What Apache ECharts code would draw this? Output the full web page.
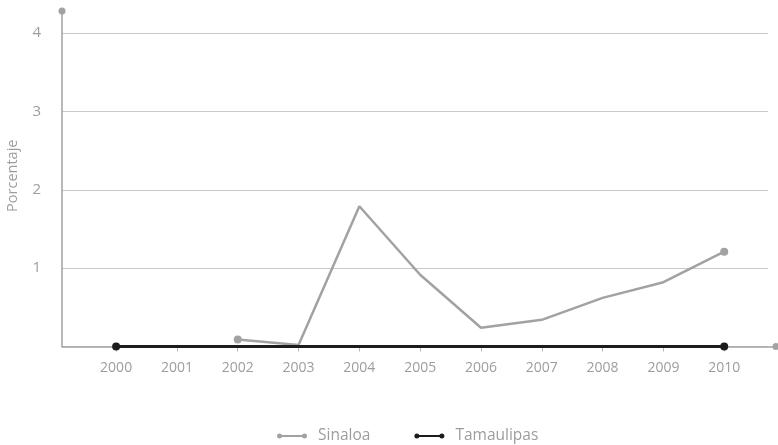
<!DOCTYPE html>
<html>
<head>
<meta charset="utf-8">
<script src="https://cdn.jsdelivr.net/npm/echarts@6/dist/echarts.min.js"></script>
<style>
  html, body { margin: 0; padding: 0; background: #ffffff; }
  #chart { width: 778px; height: 445px; }
</style>
</head>
<body>
<div id="chart"></div>
<script>
// Annual percentages by state
const years = [2000, 2001, 2002, 2003, 2004, 2005, 2006, 2007, 2008, 2009, 2010];
const sinaloa = [null, null, 0.09, 0.02, 1.79, 0.915, 0.24, 0.34, 0.62, 0.82, 1.21];
const tamaulipas = [0, 0, 0, 0, 0, 0, 0, 0, 0, 0, 0];
const yTicks = [1, 2, 3, 4];

const GREY = '#a2a2a2';
const BLACK = '#1c1c1c';
const TEXT = '#9d9d9d';
const FONT = '"Open Sans", "Noto Sans", sans-serif';

// Line with a dot at each end: only the first and last valid points get a marker
function toSeriesData(values) {
  const idx = values.map((v, i) => (v == null ? -1 : i)).filter(i => i >= 0);
  const first = idx[0], last = idx[idx.length - 1];
  return values.map((v, i) => {
    if (v == null) return null;
    const item = { value: [years[i], v] };
    if (i === first || i === last) {
      item.symbol = 'circle';
      item.symbolSize = 8;
    }
    return item;
  }).filter(d => d !== null);
}

const legendIcon = 'path://M0,3a2.5,2.5 0 1,1 5,0a2.5,2.5 0 1,1 -5,0Z M25,3a2.5,2.5 0 1,1 5,0a2.5,2.5 0 1,1 -5,0Z M2.5,2L27.5,2L27.5,4L2.5,4Z';

const chart = echarts.init(document.getElementById('chart'), null, { renderer: 'canvas' });

chart.setOption({
  animation: false,
  backgroundColor: '#ffffff',
  legend: {
    top: 423,
    left: 272,
    itemWidth: 30,
    itemHeight: 6,
    itemGap: 44,
    itemStyle: { borderWidth: 0 },
    textStyle: { color: TEXT, fontSize: 15.5, fontFamily: FONT, padding: [0, 0, 0, 6] },
    data: [
      { name: 'Sinaloa', icon: legendIcon, itemStyle: { color: GREY, borderWidth: 0 } },
      { name: 'Tamaulipas', icon: legendIcon, itemStyle: { color: BLACK, borderWidth: 0 } }
    ]
  },
  grid: [
    { left: 62, right: 10, top: 33, bottom: 98.5, containLabel: false, outerBoundsMode: 'none' },
    { left: 62, right: 2, top: 11, bottom: 98.5, containLabel: false, outerBoundsMode: 'none' }
  ],
  xAxis: [
    {
      gridIndex: 0,
      type: 'value',
      min: 1999.11,
      max: 2010.72,
      axisLine: { show: false },
      splitLine: { show: false },
      axisTick: {
        show: true,
        customValues: years,
        length: 5,
        lineStyle: { color: '#b5b5b5', width: 1 }
      },
      axisLabel: {
        customValues: years,
        color: TEXT,
        fontSize: 14,
        fontFamily: FONT,
        margin: 15,
        formatter: v => String(v)
      }
    },
    {
      gridIndex: 1,
      type: 'value',
      min: 0,
      max: 1,
      axisLine: {
        show: true,
        symbol: ['none', 'circle'],
        symbolSize: [7, 7],
        lineStyle: { color: GREY, width: 1.5 }
      },
      axisTick: { show: false },
      axisLabel: { show: false },
      splitLine: { show: false }
    }
  ],
  yAxis: [
    {
      gridIndex: 0,
      type: 'value',
      min: 0,
      max: 4,
      interval: 1,
      name: 'Porcentaje',
      nameLocation: 'middle',
      nameGap: 42,
      nameRotate: 90,
      nameMoveOverlap: false,
      nameTextStyle: { color: TEXT, fontSize: 14.5, fontFamily: FONT, padding: [0, 0, 0, 28] },
      axisLine: { show: false },
      axisTick: { show: false },
      axisLabel: {
        color: TEXT,
        fontSize: 15,
        fontFamily: FONT,
        margin: 21,
        formatter: v => (yTicks.indexOf(v) >= 0 ? String(v) : '')
      },
      splitLine: { show: true, lineStyle: { color: '#c9c9c9', width: 1 } }
    },
    {
      gridIndex: 1,
      type: 'value',
      min: 0,
      max: 1,
      axisLine: {
        show: true,
        symbol: ['none', 'circle'],
        symbolSize: [7, 7],
        lineStyle: { color: GREY, width: 1.5 }
      },
      axisTick: { show: false },
      axisLabel: { show: false },
      splitLine: { show: false }
    }
  ],
  series: [
    {
      name: 'Sinaloa',
      type: 'line',
      xAxisIndex: 0,
      yAxisIndex: 0,
      symbol: 'none',
      showSymbol: true,
      z: 3,
      lineStyle: { color: GREY, width: 2.5 },
      itemStyle: { color: GREY, borderWidth: 0 },
      data: toSeriesData(sinaloa)
    },
    {
      name: 'Tamaulipas',
      type: 'line',
      xAxisIndex: 0,
      yAxisIndex: 0,
      symbol: 'none',
      showSymbol: true,
      z: 4,
      lineStyle: { color: BLACK, width: 3 },
      itemStyle: { color: BLACK, borderWidth: 0 },
      data: toSeriesData(tamaulipas)
    }
  ]
});
</script>
</body>
</html>
